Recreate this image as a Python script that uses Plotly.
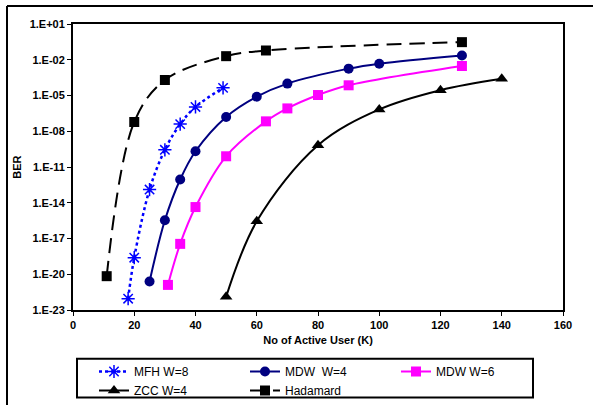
import plotly.graph_objects as go

# ---- data ----
had_x = [11, 20, 30, 50, 63, 127]
had_y = [7e-21, 6e-8, 2e-4, 2e-2, 6e-2, 0.3]

mfh_x = [18, 20, 25, 30, 35, 40, 49]
mfh_y = [9e-23, 2.5e-19, 1.3e-13, 2.8e-10, 4e-8, 1.1e-6, 4.4e-5]

mdw4_x = [25, 30, 35, 40, 50, 60, 70, 90, 100, 127]
mdw4_y = [2.5e-21, 3.4e-16, 9e-13, 2.1e-10, 1.6e-7, 8e-6, 1e-4, 1.8e-3, 4.7e-3, 2.3e-2]

mdw6_x = [31, 35, 40, 50, 63, 70, 80, 90, 127]
mdw6_y = [1.3e-21, 3.6e-18, 4.4e-15, 8e-11, 6.8e-8, 8.3e-7, 1.1e-5, 7.2e-5, 3e-3]

zcc_x = [50, 60, 80, 100, 120, 140]
zcc_y = [1.3e-22, 2.8e-16, 6.8e-10, 6.8e-7, 2.8e-5, 2.5e-4]

y_tickvals = [1e1, 1e-2, 1e-5, 1e-8, 1e-11, 1e-14, 1e-17, 1e-20, 1e-23]
y_ticktext = ["1.E+01", "1.E-02", "1.E-05", "1.E-08", "1.E-11", "1.E-14", "1.E-17", "1.E-20", "1.E-23"]
x_tickvals = [0, 20, 40, 60, 80, 100, 120, 140, 160]

W, H = 593, 405
L, R, T, B = 73, 30, 24, 93
PW, PH = W - L - R, H - T - B


def px_x(p):
    return (p - L) / PW


def px_y(p):
    return (H - B - p) / PH


fig = go.Figure()

fig.add_trace(go.Scatter(
    x=mfh_x, y=mfh_y, name="MFH W=8", mode="lines+markers",
    line=dict(color="#0000FF", width=2.5, dash="dot", shape="spline"),
    marker=dict(symbol="asterisk-open", size=11, color="#0000FF",
                line=dict(color="#0000FF", width=1.5))))
fig.add_trace(go.Scatter(
    x=mdw4_x, y=mdw4_y, name="MDW\u00a0 W=4", mode="lines+markers",
    line=dict(color="#000080", width=2, shape="spline"),
    marker=dict(symbol="circle", size=10, color="#000080")))
fig.add_trace(go.Scatter(
    x=mdw6_x, y=mdw6_y, name="MDW W=6", mode="lines+markers",
    line=dict(color="#FF00FF", width=2, shape="spline"),
    marker=dict(symbol="square", size=10, color="#FF00FF")))
fig.add_trace(go.Scatter(
    x=zcc_x, y=zcc_y, name="ZCC W=4", mode="lines+markers",
    line=dict(color="#000000", width=2, shape="spline"),
    marker=dict(symbol="triangle-up", size=11, color="#000000")))
fig.add_trace(go.Scatter(
    x=had_x, y=had_y, name="Hadamard", mode="lines+markers",
    line=dict(color="#000000", width=2, dash="15px,8px", shape="spline"),
    marker=dict(symbol="square", size=10, color="#000000")))

tickfont = dict(family="Liberation Sans, Arial", size=11, color="black", weight="bold")

fig.update_layout(
    width=W, height=H,
    margin=dict(l=L, r=R, t=T, b=B),
    paper_bgcolor="white", plot_bgcolor="white",
    font=dict(family="Liberation Sans, Arial", color="black"),
    showlegend=True,
    legend=dict(
        orientation="h", xref="container", yref="container",
        x=94 / W, y=(H - 357) / H, xanchor="left", yanchor="top",
        borderwidth=0, bgcolor="rgba(0,0,0,0)",
        font=dict(family="Liberation Sans, Arial", size=12, color="black"),
        entrywidth=106, itemwidth=30, tracegroupgap=0,
    ),
    xaxis=dict(
        range=[0, 160], tickvals=x_tickvals, ticks="outside", ticklen=4,
        tickcolor="black", showline=True, linecolor="black", linewidth=2,
        mirror=True, showgrid=False, zeroline=False, tickfont=tickfont,
        title=dict(text="No of Active User (K)", standoff=6,
                   font=dict(family="Liberation Sans, Arial", size=11, color="black", weight="bold")),
    ),
    yaxis=dict(
        type="log", range=[-23, 1], tickvals=y_tickvals, ticktext=y_ticktext,
        ticks="outside", ticklen=4, tickcolor="black", showline=True,
        linecolor="black", linewidth=2, mirror=True, showgrid=False,
        zeroline=False, tickfont=tickfont,
        title=dict(text="BER", standoff=6,
                   font=dict(family="Liberation Sans, Arial", size=11, color="black", weight="bold")),
    ),
    shapes=[
        # outer chart frame (top and left edges visible)
        dict(type="line", xref="paper", yref="paper", x0=px_x(7), x1=px_x(600),
             y0=px_y(6), y1=px_y(6), line=dict(color="black", width=2)),
        dict(type="line", xref="paper", yref="paper", x0=px_x(7), x1=px_x(7),
             y0=px_y(6), y1=px_y(410), line=dict(color="black", width=2)),
        # legend box
        dict(type="rect", xref="paper", yref="paper", x0=px_x(77), x1=px_x(533),
             y0=px_y(361), y1=px_y(400), line=dict(color="black", width=2),
             fillcolor="rgba(0,0,0,0)", layer="below"),
    ],
)

fig.write_html("out.html", config={"displayModeBar": False},
               post_script="document.body.style.margin='0';")
